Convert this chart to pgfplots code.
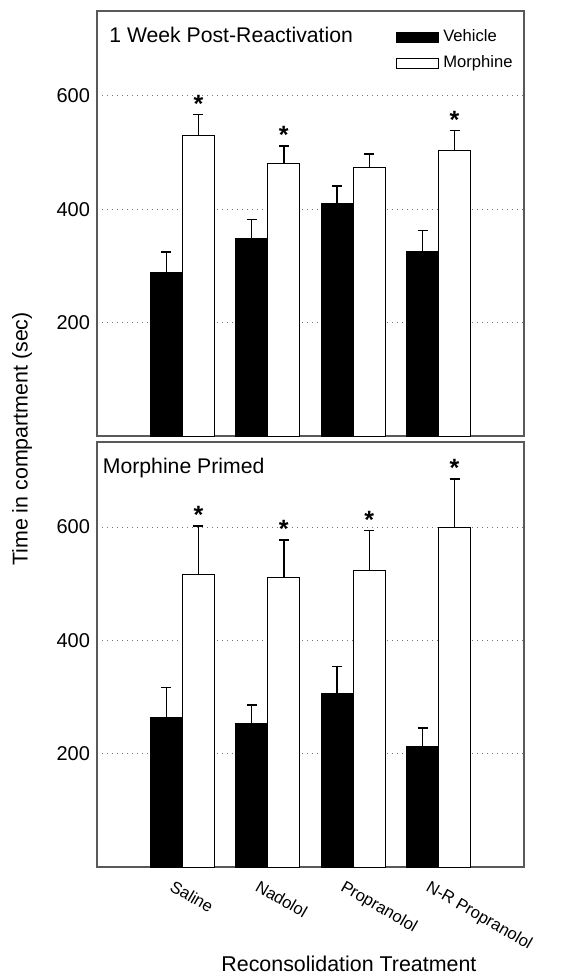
\documentclass[border=0pt]{standalone}
\usepackage{pgfplots}
\usepackage{pgfplotstable}
\pgfplotsset{compat=1.18}
\usepackage{fontspec}
\setmainfont{Liberation Sans}
\usetikzlibrary{calc}

% time in compartment (sec), mean and SEM
\pgfplotstableread{
x veh vehErr mor morErr
1 289 36 531 36
2 348 34 481 31
3 410 31 474 24
4 326 37 504 35
}\weekpost

\pgfplotstableread{
x veh vehErr mor morErr
1 263 54 517 85
2 253 33 511 66
3 306 48 523 71
4 212 33 600 85
}\primed

\pgfplotsset{
  panel/.style={
    scale only axis, width=213.5pt, height=212.5pt,
    xmin=0, xmax=5, ymin=0, ymax=750,
    xtick={1,2,3,4}, ytick={200,400,600},
    major tick length=0pt,
    ymajorgrids,
    grid style={black!55, line width=0.5pt, dash pattern=on 0.6pt off 1.9pt},
    axis line style={black!65, line width=0.8pt},
    tick label style={font=\fontsize{10}{12}\selectfont},
    /pgf/number format/assume math mode=true,
  },
  barbase/.style={ybar, bar width=0.375, /pgf/bar shift=0pt, draw=black, line width=0.5pt,
    /pgfplots/error bars/y dir=plus, /pgfplots/error bars/y explicit,
    /pgfplots/error bars/error bar style={line width=0.7pt, black},
    /pgfplots/error bars/error mark options={rotate=90, mark size=2.5pt, line width=0.7pt, black}},
  vehbar/.style={barbase, fill=black,
    legend image code/.code={\draw[fill=black, draw=black, line width=0.5pt] (0pt,-2.5pt) rectangle (21pt,2.5pt);}},
  morbar/.style={barbase, fill=white,
    legend image code/.code={\draw[fill=white, draw=black, line width=0.5pt] (0pt,-2.5pt) rectangle (21pt,2.5pt);}},
  stars/.style={draw=none, mark=none, forget plot, nodes near coords,
    point meta=explicit symbolic,
    nodes near coords style={anchor=south, inner sep=1pt, font=\fontsize{12.5}{12}\selectfont\bfseries}},
}

\begin{document}
\begin{tikzpicture}
\begin{axis}[panel, name=A, xticklabels={},
  legend style={at={(rel axis cs:0.70,0.966)}, anchor=north west, draw=none, fill=none,
    inner sep=0pt, row sep=1.5pt, font=\fontsize{8.3}{9.6}\selectfont,
    /tikz/every even column/.append style={column sep=1pt}},
  legend cell align=left]
\addplot[vehbar] table[x expr=\thisrow{x}-0.1875, y=veh, y error=vehErr] {\weekpost};
\addlegendentry{Vehicle}
\addplot[morbar] table[x expr=\thisrow{x}+0.1875, y=mor, y error=morErr] {\weekpost};
\addlegendentry{Morphine}
\addplot[stars] coordinates {(1.1875,567)[*] (2.1875,512)[*] (4.1875,539)[*]};
\coordinate (Atl) at (rel axis cs:0,1);
\node[anchor=base west, inner sep=0pt, font=\fontsize{10.6}{12}\selectfont] at (rel axis cs:0.028,0.925) {1 Week Post-Reactivation};
\node[font=\fontsize{10}{12}\selectfont] at (rel axis cs:1.04,0.976) {(A)};
\end{axis}

\begin{axis}[panel, name=B, at={($(A.south west)+(0,-3pt)$)}, anchor=north west,
  xticklabels={Saline, Nadolol, Propranolol, N-R Propranolol},
  xticklabel style={font=\fontsize{8.3}{9.6}\selectfont, xshift=-5pt, yshift=-1.5pt, rotate=-30, anchor=north west},
  xlabel={Reconsolidation Treatment},
  xlabel style={at={(axis description cs:0.59,-0.228)}, anchor=center, font=\fontsize{10.7}{12}\selectfont}]
\addplot[vehbar] table[x expr=\thisrow{x}-0.1875, y=veh, y error=vehErr] {\primed};
\addplot[morbar] table[x expr=\thisrow{x}+0.1875, y=mor, y error=morErr] {\primed};
\addplot[stars] coordinates {(1.1875,602)[*] (2.1875,577)[*] (3.1875,594)[*] (4.1875,685)[*]};
\coordinate (Bbl) at (rel axis cs:0,0);
\coordinate (Bbr) at (rel axis cs:1,0);
\node[anchor=base west, inner sep=0pt, font=\fontsize{10.6}{12}\selectfont] at (rel axis cs:0.013,0.925) {Morphine Primed};
\node[font=\fontsize{10}{12}\selectfont] at (rel axis cs:1.05,0.946) {(B)};
\end{axis}

\node[rotate=90, font=\fontsize{10.7}{12}\selectfont] at ($(Atl)!0.5!(Bbl)+(-37.5pt,0)$) {Time in compartment (sec)};

\pgfresetboundingbox
\path[use as bounding box] ($(Atl)+(-48.5pt,5.5pt)$) rectangle ($(Bbr)+(19pt,-54pt)$);
\end{tikzpicture}
\end{document}
